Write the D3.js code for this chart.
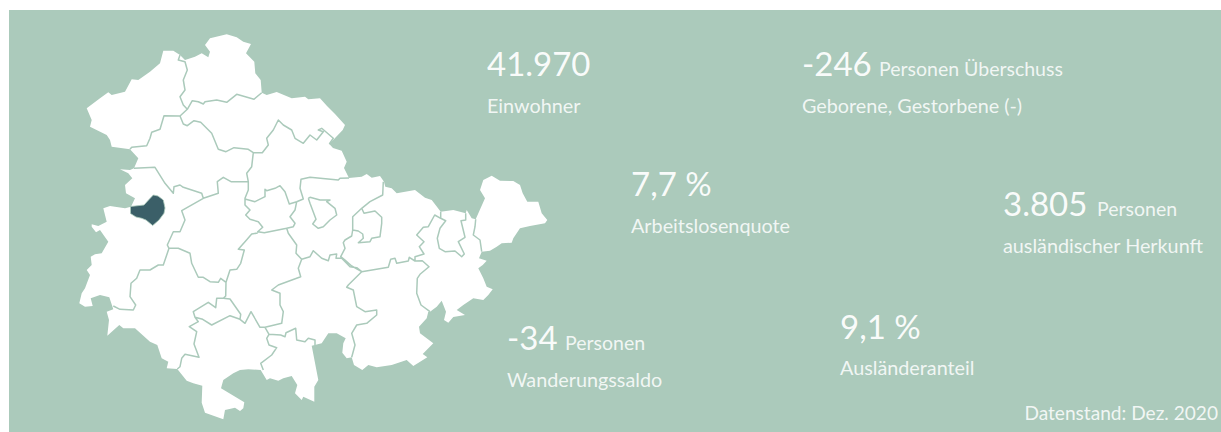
<!DOCTYPE html>
<html>
<head>
<meta charset="utf-8">
<script src="https://cdn.jsdelivr.net/npm/d3@7"></script>
<style>
  html, body { margin: 0; padding: 0; background: #fff; overflow: hidden; }
  text { font-family: Lato, "Open Sans", sans-serif; fill: #fff; }
</style>
</head>
<body>
<svg></svg>
<script>
// key figures
const kpiValues = ['41.970', '-246', '7,7 %', '3.805', '-34', '9,1 %']
const kpiUnits = ['', 'Personen Überschuss', '', 'Personen', 'Personen', '']
const kpiLabels = ['Einwohner', 'Geborene, Gestorbene (-)', 'Arbeitslosenquote', 'ausländischer Herkunft', 'Wanderungssaldo', 'Ausländeranteil']
const footnote = 'Datenstand: Dez. 2020'

// map geometry
const stateOutline = [
  [226.7,34.3],[236.7,37.3],[243.3,41.7],[251,44],[246,53.3],[254.3,61.7],[255.3,73.3],[260.7,80],[261.7,92.7],
  [266.7,95],[276.7,92],[291.7,98.3],[305,96.7],[308.3,99.3],[320,98.3],[327,106],[335,114],[345,125],[342.7,130],
  [329.3,144],[333,148],[341.7,150.7],[346.7,161.7],[344,168],[349,178],[361.7,176.7],[366.7,174],[371.7,177.7],
  [380,176],[384,181.7],[385.3,186.7],[391.7,188.3],[396.7,193.3],[415,190],[425,197.7],[431.7,200],[437.3,207.3],
  [440.7,211.7],[453.3,210],[465.7,213.3],[466.7,210],[471.7,218.3],[475.7,219.3],[479,211.7],[485,198.3],[480,190],
  [483.3,180],[491.7,175.7],[500,180.7],[513.3,181],[520,185],[522.7,193.3],[527.3,201.7],[538.3,201.7],[541.7,213.3],
  [547.3,220],[545,223.3],[530,226],[520,228.3],[513.3,238.3],[511.7,242.7],[501.7,243.3],[496.7,246.7],[490,250.7],
  [481.7,251.7],[479,258.3],[486.7,260.7],[482.7,265],[478.3,268.3],[483.3,278.3],[486.7,286.7],[492.7,289.3],[488.3,295],
  [483.3,300],[473.3,298.3],[463.3,305],[456.7,310],[465,315],[453.3,317],[448.3,322.7],[444,320],[446,311.7],[441.7,300.7],
  [436.7,306.7],[430,311.7],[428.3,311.7],[426.7,318.3],[419,326.7],[420,333.3],[433.3,343.3],[422.7,354],[427.3,357.3],
  [413.3,366],[406.7,360],[391.7,365],[376.7,367.3],[368.3,365],[362.3,370],[354,365],[351.7,357.3],[346.7,358.3],
  [342.3,352.7],[343.3,343.3],[345.7,338.3],[336.7,333.3],[328.3,333.3],[321.7,343.3],[311.7,345.7],[318.3,380],
  [314.3,386.7],[314.3,401.7],[303.3,396.7],[301.7,400],[295,393.3],[297.3,385],[291.7,376],[283.3,378.3],[278.3,380.7],
  [270,378.3],[266.7,380],[260.7,370],[248.3,369.3],[240,370],[233.3,373.3],[223.3,380],[221,388.3],[244.3,402.3],
  [243.3,408.3],[240,411],[235,407.7],[225,410],[223.3,419.3],[205,412.7],[201.7,402.7],[202.3,385.7],[193.3,383.3],
  [186.7,380.7],[177.3,369],[166.7,368.3],[168.3,361.7],[161.7,358.3],[157.3,345],[150,341.7],[135,328.3],[123.3,328.3],
  [119.3,325],[107.3,335.7],[109,320],[106.7,311.7],[113.3,309.3],[109.3,297.3],[100,295],[90.7,298.3],[92.7,306],
  [85,306.7],[79.3,303.3],[81.7,293.3],[85,288.3],[90,275],[86.7,270],[91.7,265],[90.7,256.7],[95,254.3],[101.7,253.3],
  [108.3,241.7],[100,230],[96,232.3],[91.7,226.7],[91.7,224.3],[98.3,226],[106.7,221.7],[103.3,208.3],[110,206],
  [125,208.3],[131,206.7],[135,198.3],[126,193.3],[125,185],[132.3,178.3],[128.3,173.3],[120,169.3],[130,170],[134,168.3],
  [138.3,158.3],[130,149.3],[111.7,146.7],[110,140],[106.7,135],[90,126.7],[91.7,120],[86.7,108.3],[100,98.3],[108.3,92.3],
  [111.7,95],[125,91.7],[131.7,79.3],[138.3,80],[150,71.7],[160,63.3],[163.3,50.7],[173.3,50.7],[180,55],[185,60],
  [195,56.7],[201.7,53.3],[208.3,57.3],[210,51.7],[205,45],[210,38.3]
]

const districtBorders = [
  [[180,55],[178.3,60],[185,61.7],[187.3,70],[183.3,80],[185,90],[180,96.7],[183.3,105],[187.3,109.3],[180,116]],
  [[187.3,109.3],[192.3,100.7],[198.3,101.7],[203.3,104],[205,101.7],[216.7,100],[226.7,102.3],[236.7,94.3],[254,99.3],[261.7,92.7]],
  [[180,116],[164,115.7],[160,129.3],[151.7,132.3],[150,138.3],[146.7,145.7],[131.7,147.3],[130,149.3]],
  [[180,116],[183.3,124],[187.3,125.7],[194,120.7],[200.7,122.3],[211.7,133.3],[218.3,149.3],[226,151.7],[234,147.7],[248.3,149.3],
   [253.3,152.7],[262.3,152.7],[268.3,145],[266.7,138.3],[273.3,130],[278.3,120],[283.3,125],[291.7,130],[295,138.3],[303.3,143.3],
   [310,135],[316.7,140],[323.3,131.7],[318.3,130],[321.7,128.3],[333.3,138.3],[329.3,144]],
  [[253.3,152.7],[251.7,166.7],[246.7,173.3],[248.3,181.7],[248.3,190],[245,198.3],[245,205],[250,210],[245.7,215],[250,219.3],
   [258.3,221.7],[262.7,227.3],[257.7,231.7],[264.3,232.7],[286.7,228.3]],
  [[248.3,181.7],[231,181.7],[223.3,177.3],[217.3,181.7],[218.3,193.3],[203.3,198.3],[201.7,193.3],[183.3,187.3],[180,185],[174,186.7],
   [173.3,193.3],[165,183.3],[155,167.3],[134,168.3]],
  [[203.3,198.3],[181.7,210.7],[185,220],[180,231.7],[173.3,231.7],[167.3,245],[169,248.3]],
  [[169,248.3],[163.3,265],[158.3,265],[150,270],[140,270],[136.7,278.3],[131,283.3],[130,296.7],[135.7,305],[133.3,310],[120,309.3],[113.3,306]],
  [[169,248.3],[178.3,248.3],[190,253.3],[191.7,263.3],[198.3,277.3],[203.3,277.3],[210,281.7],[218.3,282.3],[220.7,278.3],[226,282.3]],
  [[257.7,233],[251.7,234],[245,241.7],[238.3,249.3],[244.3,250],[240.7,263.3],[236.7,269.3],[230,270],[226,282.3],[225.7,296],[223.3,298.3],
   [216.7,298.3],[215.7,307.7],[208.3,302.3],[193.3,311.7],[195,317.3],[202.7,319.3],[211.7,325],[230,315.7],[240,319.3],[245,323.3],
   [251,311.7],[260,327.3],[265,327.3],[281.7,323.3],[283.3,311.7],[280,305],[280,293.3],[271.7,290],[278.3,285],[300.7,276.7],[298.3,268.3],
   [301.7,259.3]],
  [[223.3,298.3],[230,299],[240.7,314.3],[240,319.3]],
  [[195,317.3],[198.3,321.7],[189.3,326.7],[196.7,331.7],[194,344],[199,357.3],[185,354.3],[181.7,358.3],[180,366.7],[177.3,369]],
  [[265,327.3],[269,334.3],[266.7,338.3],[269,345],[276.7,347.7],[271.7,355],[260.7,363.3],[263.3,370]],
  [[269,334.3],[280.7,335],[285,336.7],[286,332.7],[295.7,328.3],[296.7,340],[305,341.7],[308.3,338.3],[315,340],[315,345]],
  [[301.7,259.3],[310,256.7],[313.3,250.7],[321.7,258.3],[328.3,260.7],[330,255],[336.7,254],[336,258.3],[341.7,258.3],[350,266.7],[356.7,267.7],
   [361.7,271.7],[388.3,267.3],[390.7,259.3],[395,258.3],[396.7,263.3],[408.3,261],[409.3,257.3],[415,261],[422.3,260.7],[429,266.7],[420,274.3],
   [417.3,278.3],[416.7,293.3],[421,305],[430,311.7]],
  [[361.7,271.7],[348.3,285],[346.7,287.3],[353.3,290],[356.7,306.7],[365,311.7],[376.7,310],[376.7,315],[366.7,323.3],[356.7,325],[351.7,333.3],[355,345],[351.7,357.3]],
  [[301.7,259.3],[296,253.3],[296.7,245],[288.3,233.3],[286.7,228.3],[293.3,226.7],[295,223.3],[290,216.7],[295,210],[296.7,201.7]],
  [[245,199],[255,201.7],[265,196.7],[265,189.3],[266.7,190.7],[275,188.3],[280,185.7],[285,191.7],[289.3,204],[296.7,201.7],[303.3,199],[300,188.3],
   [301,179.3],[310,177.3],[338.3,180],[340,178.3],[349,178]],
  [[383.3,181.7],[382.7,195],[370,201.7],[361.7,208.3],[352.7,216.7],[352.7,230],[351.7,236],[345,240],[343.3,242.7],[345,248.3],[340.7,256.7],[345,260],[351.7,266],[361.7,271.7]],
  [[361.7,208.3],[364,213.3],[375,211],[381.7,217.3],[381.7,223.3],[380,236.7],[371.7,238.3],[370,241.7],[358.3,242.7],[363.3,238.3],[362.7,234],[358.3,231],[352.7,230]],
  [[308.3,198.3],[310,197.3],[320,200],[330,200],[326.7,201.7],[335,208.3],[336.7,215],[330,220],[323.3,226.7],[318.3,228.3],[312.7,224],[316,219.3],[310,203.3],[308.3,198.3]],
  [[440.7,211.7],[440.7,218.3],[434.7,215],[428.3,226.7],[423.3,227.3],[416.7,235],[424,241.7],[419.3,246.7],[424,254],[415,256.7],[415,261]],
  [[440.7,218.3],[445.7,220.7],[440,228.3],[437.3,238.3],[439.3,248.3],[445,251.7],[455,251],[461.7,256.7],[464.3,254],[458.3,241.7],[465,237.3],[461,220.7],[465.7,220],[465.7,213.3]],
  [[475.7,219.3],[475,226.7],[473.3,235],[480,240],[481.7,251.7]]
]

const selectedDistrict = [
  [153.3,195],[158,196],[163.3,200],[165,208],[164,213.3],[159,220],[152.7,225.5],[146,220],[141.7,218.3],[136,217],[130.5,213.5],[130.5,206.5],[144,205],[149,199.5]
]

// kpi positions on the canvas, same order as the arrays above
const kpiX = [487, 802, 631, 1003, 507, 840]
const kpiY = [75.5, 75.5, 195.5, 215.5, 349.5, 338.5]
const unitX = [0, 879, 0, 1097, 565, 0]
const labelY = [112.5, 112.5, 232.5, 252.5, 386.5, 375]

const width = 1221
const height = 432
const labelSize = 19.8
const unitSize = 19.5
const footnoteSize = 19.1
const bgColor = '#abcabb'
const selectedColor = '#3b5f68'

let svg = d3.select('svg')
    .attr('width', width)
    .attr('height', height)
    .style('display', 'block')

function polygonFeature(points) {
    return { type: 'Polygon', coordinates: [[...points, points[0]]] }
}

function drawPanel() {
    svg.append('rect')
        .attr('x', 9)
        .attr('y', 10)
        .attr('width', width - 9)
        .attr('height', height - 10)
        .attr('fill', bgColor)
}

function drawMap() {
    let path = d3.geoPath(d3.geoIdentity())
    let map = svg.append('g').attr('id', 'map')

    map.append('path')
        .attr('d', path(polygonFeature(stateOutline)))
        .attr('fill', '#fff')

    map.append('path')
        .attr('d', path({ type: 'MultiLineString', coordinates: districtBorders }))
        .attr('fill', 'none')
        .attr('stroke', bgColor)
        .attr('stroke-width', 1.5)
        .attr('stroke-linejoin', 'round')

    map.append('path')
        .attr('d', path(polygonFeature(selectedDistrict)))
        .attr('fill', selectedColor)
        .attr('stroke', bgColor)
        .attr('stroke-width', 0.8)
}

function drawFigures() {
    let g = svg.append('g').attr('id', 'figures')

    kpiValues.forEach((value, i) => {
        g.append('text')
            .attr('x', kpiX[i])
            .attr('y', kpiY[i])
            .attr('font-size', 33)
            .attr('fill-opacity', 0.95)
            .text(value)

        if (kpiUnits[i]) {
            g.append('text')
                .attr('x', unitX[i])
                .attr('y', kpiY[i])
                .attr('font-size', unitSize)
                .attr('fill-opacity', 0.85)
                .text(kpiUnits[i])
        }

        g.append('text')
            .attr('x', kpiX[i])
            .attr('y', labelY[i])
            .attr('font-size', labelSize)
            .attr('fill-opacity', 0.85)
            .text(kpiLabels[i])
    })

    g.append('text')
        .attr('x', 1218)
        .attr('y', 420)
        .attr('text-anchor', 'end')
        .attr('font-size', footnoteSize)
        .attr('fill-opacity', 0.85)
        .text(footnote)
}

drawPanel()
drawMap()
drawFigures()
</script>
</body>
</html>
